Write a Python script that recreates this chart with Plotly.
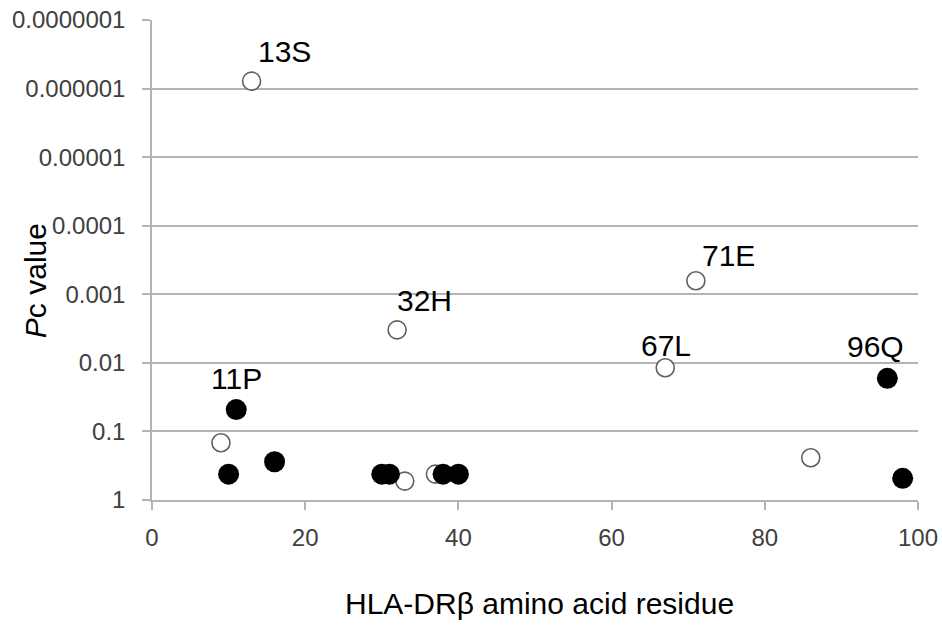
import math
import plotly.graph_objects as go

# Data
open_x = [9, 13, 32, 33, 37, 67, 71, 86]
open_p = [0.146, 7.8e-7, 3.3e-3, 0.53, 0.42, 0.0118, 6.35e-4, 0.242]
filled_x = [10, 11, 16, 30, 31, 38, 40, 96, 98]
filled_p = [0.42, 0.048, 0.277, 0.42, 0.42, 0.42, 0.42, 0.0168, 0.483]

label_text = ["13S", "32H", "71E", "67L", "11P", "96Q"]
label_x = [13, 32, 71, 67, 11, 96]
label_p = [7.8e-7, 3.3e-3, 6.35e-4, 0.0118, 0.048, 0.0168]
label_dx = [33, 27, 33, 1, 0, -12]
label_dy = [30, 29, 25, 22, 31, 32]

y_tickvals = [1, 0.1, 0.01, 0.001, 0.0001, 0.00001, 0.000001, 0.0000001]
y_ticktext = ["1", "0.1", "0.01", "0.001", "0.0001", "0.00001", "0.000001", "0.0000001"]
x_tickvals = [0, 20, 40, 60, 80, 100]

FONT = "Liberation Sans, Arial, sans-serif"
GRID = "#b3b3b3"
TICKC = "#404040"

fig = go.Figure()
fig.add_trace(go.Scatter(
    x=open_x, y=open_p, mode="markers",
    marker=dict(symbol="circle", size=18, color="white",
                line=dict(color="#606060", width=1.6)),
    showlegend=False, hoverinfo="x+y"))
fig.add_trace(go.Scatter(
    x=filled_x, y=filled_p, mode="markers",
    marker=dict(symbol="circle", size=21, color="black",
                line=dict(color="black", width=0)),
    showlegend=False, hoverinfo="x+y"))

for t, x, p, dx, dy in zip(label_text, label_x, label_p, label_dx, label_dy):
    fig.add_annotation(x=x, y=math.log10(p), text=t, showarrow=False,
                       xanchor="center", yanchor="middle",
                       xshift=dx, yshift=dy,
                       font=dict(family=FONT, size=30, color="black"))

fig.add_annotation(x=0.5065, y=-0.2146, xref="paper", yref="paper",
                   xanchor="center", yanchor="middle",
                   text="HLA-DRβ amino acid residue", showarrow=False,
                   font=dict(family=FONT, size=30, color="black"))
fig.add_annotation(x=-0.1527, y=0.456, xref="paper", yref="paper",
                   xanchor="center", yanchor="middle",
                   text="<i>P</i>c value", showarrow=False, textangle=-90,
                   font=dict(family=FONT, size=30, color="black"))

fig.update_layout(
    width=942, height=626,
    margin=dict(l=152, r=24, t=20, b=126, autoexpand=False),
    paper_bgcolor="white", plot_bgcolor="white",
    font=dict(family=FONT, size=24, color=TICKC),
    xaxis=dict(range=[0, 100], tickvals=x_tickvals, showgrid=False,
               showline=True, linecolor=GRID, linewidth=1.5,
               ticks="outside", ticklen=8, tickcolor=GRID, tickwidth=1.5,
               zeroline=False, automargin=False, ticklabelstandoff=7,
               ticklabeloverflow="allow",
               tickfont=dict(family=FONT, size=24, color=TICKC)),
    yaxis=dict(type="log", range=[0, -7], tickvals=y_tickvals, ticktext=y_ticktext,
               showgrid=True, gridcolor=GRID, gridwidth=1.5,
               showline=True, linecolor=GRID, linewidth=1.5,
               ticks="outside", ticklen=8, tickcolor=GRID, tickwidth=1.5,
               zeroline=False, automargin=False, ticklabelstandoff=12,
               ticklabeloverflow="allow",
               tickfont=dict(family=FONT, size=24, color=TICKC)),
)

# remove the default 8px page margin so the figure fills the window exactly
fig.write_html("out.html",
               config={"displayModeBar": False},
               post_script="document.body.style.margin='0';document.body.style.overflow='hidden';")
